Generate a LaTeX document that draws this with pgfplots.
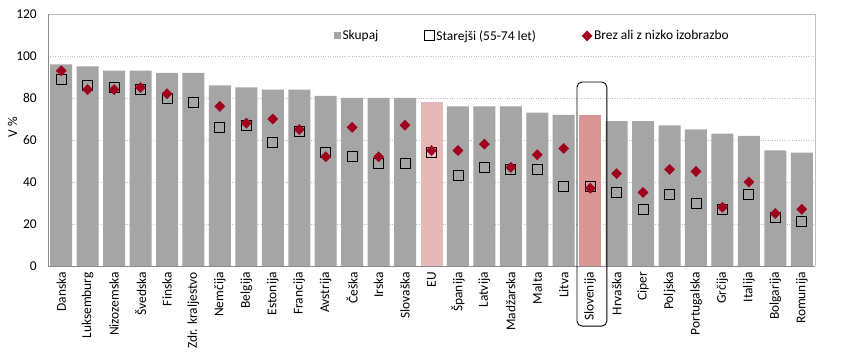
\documentclass[border=0pt]{standalone}
\usepackage{fontspec}
\setmainfont{Carlito}
\usepackage{pgfplots}
\usepackage{pgfplotstable}
\pgfplotsset{compat=1.18}
\definecolor{barg}{HTML}{A5A5A5}
\definecolor{eupink}{HTML}{E6B9B8}
\definecolor{slopink}{HTML}{D99694}
\definecolor{dred}{HTML}{A0001E}
\definecolor{gridc}{HTML}{BFBFBF}
\definecolor{axc}{HTML}{8C8C8C}
\newcommand{\chf}{\fontsize{13.5}{16}\selectfont}
\pgfplotsset{
  mylegmark/.style={legend image code/.code={\draw[mark repeat=1,##1] plot coordinates {(5bp,0bp)};}},
  mylegbar/.style={legend image code/.code={\fill[barg] (0bp,-3.5bp) rectangle (7bp,3.5bp);}},
}

% idx total (grey bars, EU and Slovenija drawn separately)
\pgfplotstableread{
x y
0 96
1 95
2 93
3 93
4 92
5 92
6 86
7 85
8 84
9 84
10 81
11 80
12 80
13 80
15 76
16 76
17 76
18 73
19 72
21 69
22 69
23 67
24 65
25 63
26 62
27 55
28 54
}\skupaj
\pgfplotstableread{
x y
0 89
1 86
2 85
3 84
4 80
5 78
6 66
7 67
8 59
9 64
10 54
11 52
12 49
13 49
14 54
15 43
16 47
17 46
18 46
19 38
20 38
21 35
22 27
23 34
24 30
25 27
26 34
27 23
28 21
}\starejsi
\pgfplotstableread{
x y
0 93
1 84
2 84
3 85
4 82
6 76
7 68
8 70
9 65
10 52
11 66
12 52
13 67
14 55
15 55
16 58
17 47
18 53
19 56
20 37
21 44
22 35
23 46
24 45
25 28
26 40
27 25
28 27
}\nizko

\begin{document}
\begin{tikzpicture}
\begin{axis}[
  scale only axis, width=767bp, height=252bp,
  xmin=-0.5, xmax=28.5, ymin=0, ymax=120,
  ytick={0,20,...,120},
  xtick={0,...,28},
  xticklabels={Danska,Luksemburg,Nizozemska,Švedska,Finska,Zdr. kraljestvo,Nemčija,Belgija,Estonija,Francija,Avstrija,Češka,Irska,Slovaška,EU,Španija,Latvija,Madžarska,Malta,Litva,Slovenija,Hrvaška,Ciper,Poljska,Portugalska,Grčija,Italija,Bolgarija,Romunija},
  major tick length=0pt,
  tick style={draw=none},
  /pgf/number format/assume math mode=true,
  tick label style={font=\chf},
  x tick label style={rotate=90, anchor=east, inner sep=0pt},
  xticklabel shift=6bp,
  y tick label style={inner sep=0pt},
  yticklabel shift=11bp,
  ymajorgrids,
  major grid style={gridc, dotted, line width=0.6pt},
  axis line style={draw=none},
  clip=false,
  ylabel={V \%},
  every axis y label/.style={at={(axis description cs:-0.046,0.55)}, rotate=90, anchor=center, font=\chf},
  legend columns=3,
  legend style={draw=none, fill=none, font=\chf, at={(axis description cs:0.372,0.913)}, anchor=west, inner sep=0pt,
     /tikz/every even column/.append style={column sep=44bp}},
]
\addplot[ybar, bar width=22bp, bar shift=0pt, fill=barg, draw=none, mylegbar]
   table[x=x,y=y]{\skupaj};
\addlegendentry{Skupaj}
\addplot[ybar, bar width=22bp, bar shift=0pt, fill=eupink, draw=none, forget plot]
   coordinates {(14,78)};
\addplot[ybar, bar width=22bp, bar shift=0pt, fill=slopink, draw=none, forget plot]
   coordinates {(20,72)};
\addplot[only marks, mark=square, mark size=5bp, mark options={draw=black, line width=0.9bp}, mylegmark]
   table[x=x,y=y]{\starejsi};
\addlegendentry{Starejši (55-74 let)}
\addplot[only marks, mark=square*, mark size=3.6bp, mark options={rotate=45, fill=dred, draw=dred}, mylegmark]
   table[x=x,y=y]{\nizko};
\addlegendentry{Brez ali z nizko izobrazbo}
\draw[gridc, line width=0.8pt] (rel axis cs:0,1) -- (rel axis cs:1,1) -- (rel axis cs:1,0);
\draw[axc, line width=0.8pt] (rel axis cs:0,1) -- (rel axis cs:0,0) -- (rel axis cs:1,0);
\draw[black, line width=0.9bp, rounded corners=5bp] (axis cs:19.5,87.6) rectangle (axis cs:20.63,-28.6);
\end{axis}
\pgfresetboundingbox
\path (current axis.south west) +(-48bp,-95bp) (current axis.north east) +(30bp,14bp);
\end{tikzpicture}
\end{document}
